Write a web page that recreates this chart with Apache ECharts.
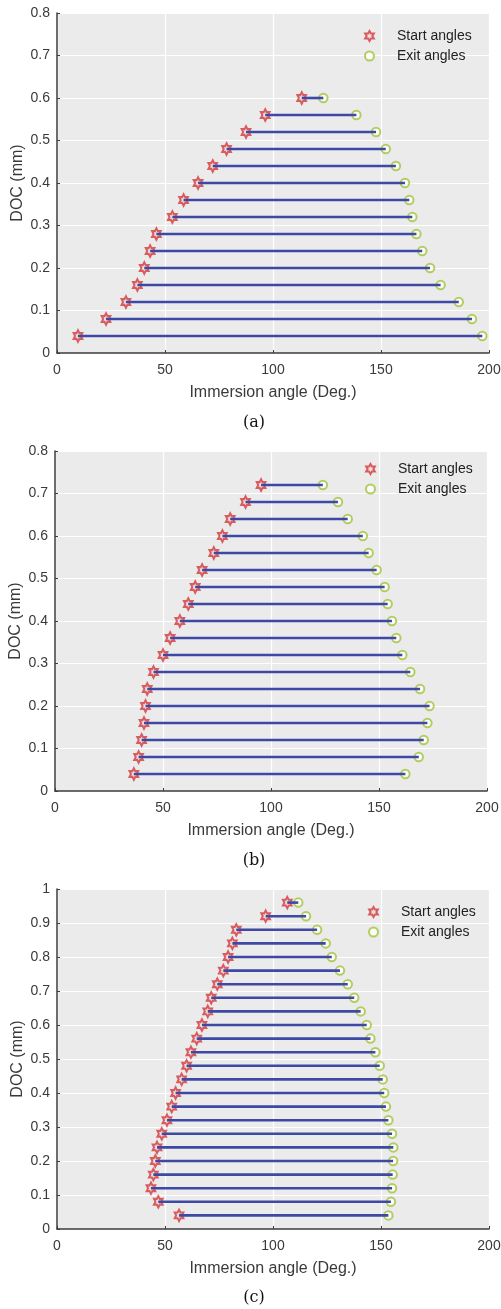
<!DOCTYPE html>
<html>
<head>
<meta charset="utf-8">
<title>Immersion angles vs DOC</title>
<script src="https://cdn.jsdelivr.net/npm/echarts@6/dist/echarts.min.js"></script>
<style>
  html, body { margin: 0; padding: 0; background: #ffffff; }
  #chart { width: 501px; height: 1309px; }
</style>
</head>
<body>
<div id="chart"></div>
<script>
// Depth of cut levels (mm) for each panel
const docA = [0.04, 0.08, 0.12, 0.16, 0.20, 0.24, 0.28, 0.32, 0.36, 0.40, 0.44, 0.48, 0.52, 0.56, 0.60];
const startA = [9.7, 22.7, 31.9, 37.2, 40.4, 43.1, 46.0, 53.4, 58.6, 65.3, 72.1, 78.5, 87.5, 96.4, 113.3];
const exitA = [196.9, 192.1, 186.0, 177.6, 172.7, 169.1, 166.4, 164.5, 163.1, 161.1, 156.9, 152.2, 147.7, 138.6, 123.3];

const docB = [0.04, 0.08, 0.12, 0.16, 0.20, 0.24, 0.28, 0.32, 0.36, 0.40, 0.44, 0.48, 0.52, 0.56, 0.60, 0.64, 0.68, 0.72];
const startB = [36.5, 38.7, 40.1, 41.2, 41.9, 42.7, 45.6, 50.0, 53.3, 57.8, 61.7, 64.9, 68.1, 73.5, 77.5, 81.1, 88.2, 95.4];
const exitB = [162.2, 168.4, 170.7, 172.4, 173.4, 169.0, 164.5, 160.8, 158.0, 156.0, 154.0, 152.6, 148.9, 145.2, 142.5, 135.5, 131.0, 124.0];

const docC = [0.04, 0.08, 0.12, 0.16, 0.20, 0.24, 0.28, 0.32, 0.36, 0.40, 0.44, 0.48, 0.52, 0.56, 0.60, 0.64, 0.68, 0.72, 0.76, 0.80, 0.84, 0.88, 0.92, 0.96];
const startC = [56.5, 46.9, 43.5, 44.6, 45.5, 46.3, 48.5, 50.9, 53.1, 54.9, 57.7, 60.0, 62.0, 64.7, 67.1, 69.8, 71.4, 74.2, 77.0, 79.2, 81.2, 83.0, 96.6, 106.6];
const exitC = [153.4, 154.6, 155.1, 155.4, 155.6, 155.7, 155.1, 153.4, 152.3, 151.5, 150.8, 149.4, 147.4, 145.1, 143.4, 140.6, 137.6, 134.6, 131.0, 127.2, 124.4, 120.4, 115.3, 111.7];

// Axis ticks
const xTicks = { min: 0, max: 200, interval: 50 };
const yMaxes = [0.8, 0.8, 1.0];
const captions = ['(a)', '(b)', '(c)'];

const panels = [
  { doc: docA, start: startA, exit: exitA },
  { doc: docB, start: startB, exit: exitB },
  { doc: docC, start: startC, exit: exitC }
];

const RED = '#d3393c';
const GREEN = '#a3c43a';
const BLUE = '#3d49a4';
const AXIS = '#3c3c3c';
const TEXT = '#3a3a3a';
const FONT = '"Liberation Sans", Arial, Helvetica, sans-serif';

// six-pointed star outline
const HEXAGRAM = 'path://M0,-100L-28.87,-50L-86.6,-50L-57.7,0L-86.6,50L-28.87,50L0,100L28.87,50L86.6,50L57.7,0L86.6,-50L28.87,-50Z';

const gridBoxes = [
  { left: 57, top: 13, width: 432, height: 340 },
  { left: 55, top: 451, width: 432, height: 340 },
  { left: 57, top: 889, width: 432, height: 340 }
];
const legendPos = [
  { left: 364, top: 29 },
  { left: 365, top: 462 },
  { left: 368, top: 905 }
];
const captionPos = [[254, 423], [254, 861], [254, 1298]];

const grids = [], xAxes = [], yAxes = [], series = [], legends = [], graphics = [];

panels.forEach((p, i) => {
  const g = gridBoxes[i];
  grids.push({
    left: g.left, top: g.top, width: g.width, height: g.height,
    show: true, backgroundColor: '#ebebeb', borderWidth: 0,
    outerBoundsMode: 'none'
  });
  xAxes.push({
    type: 'value', gridIndex: i,
    min: xTicks.min, max: xTicks.max, interval: xTicks.interval,
    name: 'Immersion angle (Deg.)', nameLocation: 'middle', nameGap: 32,
    nameMoveOverlap: false,
    nameTextStyle: { fontFamily: FONT, fontSize: 16, color: TEXT },
    axisLine: { show: true, onZero: false, lineStyle: { color: AXIS, width: 1.5 } },
    axisTick: { show: true, inside: true, length: 3, lineStyle: { color: AXIS, width: 1 } },
    axisLabel: { fontFamily: FONT, fontSize: 14, color: TEXT, margin: 10 },
    splitLine: { show: true, lineStyle: { color: '#ffffff', width: 1.2 } }
  });
  yAxes.push({
    type: 'value', gridIndex: i,
    min: 0, max: yMaxes[i], interval: 0.1,
    name: 'DOC (mm)', nameLocation: 'middle', nameGap: 31,
    nameMoveOverlap: false,
    nameTextStyle: { fontFamily: FONT, fontSize: 16, color: TEXT },
    axisLine: { show: true, onZero: false, lineStyle: { color: AXIS, width: 1.5 } },
    axisTick: { show: true, inside: true, length: 3, lineStyle: { color: AXIS, width: 1 } },
    axisLabel: {
      fontFamily: FONT, fontSize: 14, color: TEXT, margin: 7,
      formatter: v => String(Math.round(v * 10) / 10)
    },
    splitLine: { show: true, lineStyle: { color: '#ffffff', width: 1.2 } }
  });

  const spans = p.doc.map((d, k) => [p.start[k], p.exit[k], d]);

  series.push({
    name: 'Start angles', type: 'scatter', xAxisIndex: i, yAxisIndex: i,
    symbol: HEXAGRAM, symbolSize: [10, 11.5], symbolKeepAspect: true,
    itemStyle: { color: 'rgba(240,200,200,0.5)', borderColor: RED, borderWidth: 2 },
    data: p.doc.map((d, k) => [p.start[k], d]), z: 3, silent: true
  });
  series.push({
    name: 'Exit angles', type: 'scatter', xAxisIndex: i, yAxisIndex: i,
    symbol: 'emptyCircle', symbolSize: 8.5,
    itemStyle: { color: GREEN, borderColor: GREEN, borderWidth: 2 },
    data: p.doc.map((d, k) => [p.exit[k], d]), z: 3, silent: true
  });
  series.push({
    name: 'span', type: 'custom', xAxisIndex: i, yAxisIndex: i,
    encode: { x: [0, 1], y: 2 }, z: 4, silent: true,
    data: spans,
    renderItem: (params, api) => {
      const a = api.coord([api.value(0), api.value(2)]);
      const b = api.coord([api.value(1), api.value(2)]);
      return {
        type: 'line',
        shape: { x1: a[0], y1: a[1], x2: b[0], y2: b[1] },
        style: { stroke: BLUE, lineWidth: 2.6 }
      };
    }
  });

  legends.push({
    orient: 'vertical', left: legendPos[i].left, top: legendPos[i].top,
    padding: 0, itemWidth: 9, itemHeight: 10, itemGap: 6,
    selectedMode: false,
    data: ['Start angles', 'Exit angles'],
    textStyle: { fontFamily: FONT, fontSize: 14, color: '#222', lineHeight: 14, padding: [0, 0, 0, 18] }
  });

  graphics.push({
    type: 'text',
    style: {
      text: captions[i],
      x: captionPos[i][0], y: captionPos[i][1],
      align: 'center', verticalAlign: 'middle',
      font: '16px "DejaVu Serif", "Liberation Serif", serif',
      fill: '#111'
    }
  });
});

const chart = echarts.init(document.getElementById('chart'), null, { renderer: 'canvas' });
chart.setOption({
  animation: false,
  backgroundColor: '#ffffff',
  grid: grids,
  xAxis: xAxes,
  yAxis: yAxes,
  legend: legends,
  series: series,
  graphic: graphics
});
</script>
</body>
</html>
